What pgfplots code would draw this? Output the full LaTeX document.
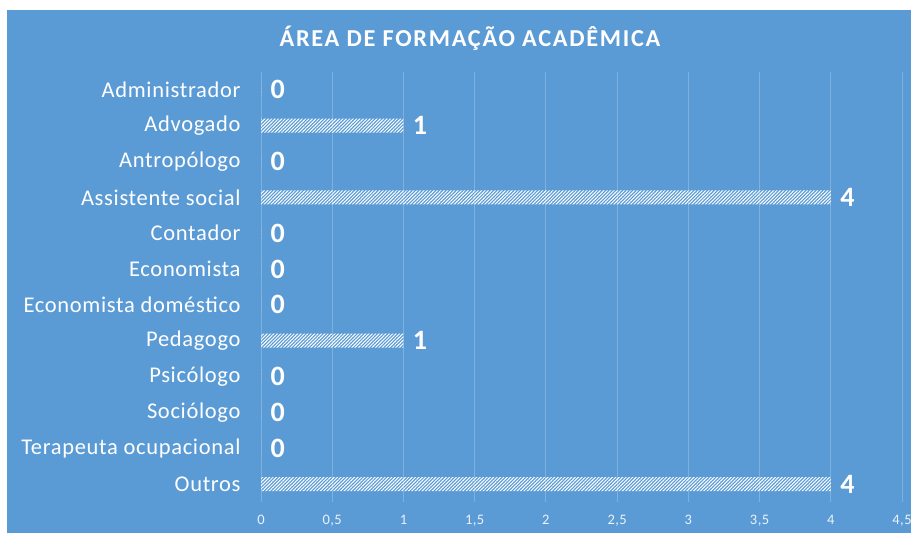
\documentclass[border=0pt]{standalone}
\usepackage{fontspec}
\setmainfont{Carlito}
\newfontfamily\titlefont[LetterSpace=7]{Carlito}
\newfontfamily\labelfont[LetterSpace=3]{Carlito}
\usepackage{pgfplots}
\pgfplotsset{compat=1.18}
\usetikzlibrary{patterns.meta}
\definecolor{bgblue}{RGB}{91,155,213}
\definecolor{gridblue}{RGB}{125,177,223}
\definecolor{ticktext}{RGB}{235,242,250}

\begin{document}
\begin{tikzpicture}
\fill[white] (0,0) rectangle (911bp,533bp);
\fill[bgblue] (7bp,0) rectangle (911bp,523bp);
\node[text=white, font=\titlefont\bfseries\fontsize{24.3bp}{28bp}\selectfont] at (470bp,495bp) {ÁREA DE FORMAÇÃO ACADÊMICA};
\begin{axis}[
    overlay,
    at={(261bp,31bp)},
    anchor=south west,
    scale only axis,
    width=641bp,
    height=430bp,
    xbar,
    bar width=14bp,
    xmin=0, xmax=4.5,
    ymin=-0.5, ymax=11.5,
    y dir=reverse,
    xtick={0,0.5,...,4.5},
    ytick={0,...,11},
    yticklabels={Administrador, Advogado, Antropólogo, Assistente social, Contador, Economista, Economista doméstico, Pedagogo, Psicólogo, Sociólogo, Terapeuta ocupacional, Outros},
    axis line style={draw=none},
    major tick length=0pt,
    xmajorgrids,
    grid style={gridblue, line width=0.8pt},
    /pgf/number format/assume math mode=true,
    /pgf/number format/use comma,
    xticklabel style={text=ticktext, font=\labelfont\fontsize{14.5bp}{16bp}\selectfont, yshift=-10bp},
    yticklabel style={text=white, font=\labelfont\fontsize{22.5bp}{26bp}\selectfont, xshift=-17bp},
    nodes near coords,
    nodes near coords style={text=white, font=\bfseries\fontsize{28bp}{32bp}\selectfont, xshift=6bp},
]
\addplot[draw=none, pattern={Lines[angle=45, distance=2.4bp, line width=1bp]}, pattern color=white] coordinates {
    (0,0) (1,1) (0,2) (4,3) (0,4) (0,5) (0,6) (1,7) (0,8) (0,9) (0,10) (4,11)
};
\end{axis}
\end{tikzpicture}
\end{document}
